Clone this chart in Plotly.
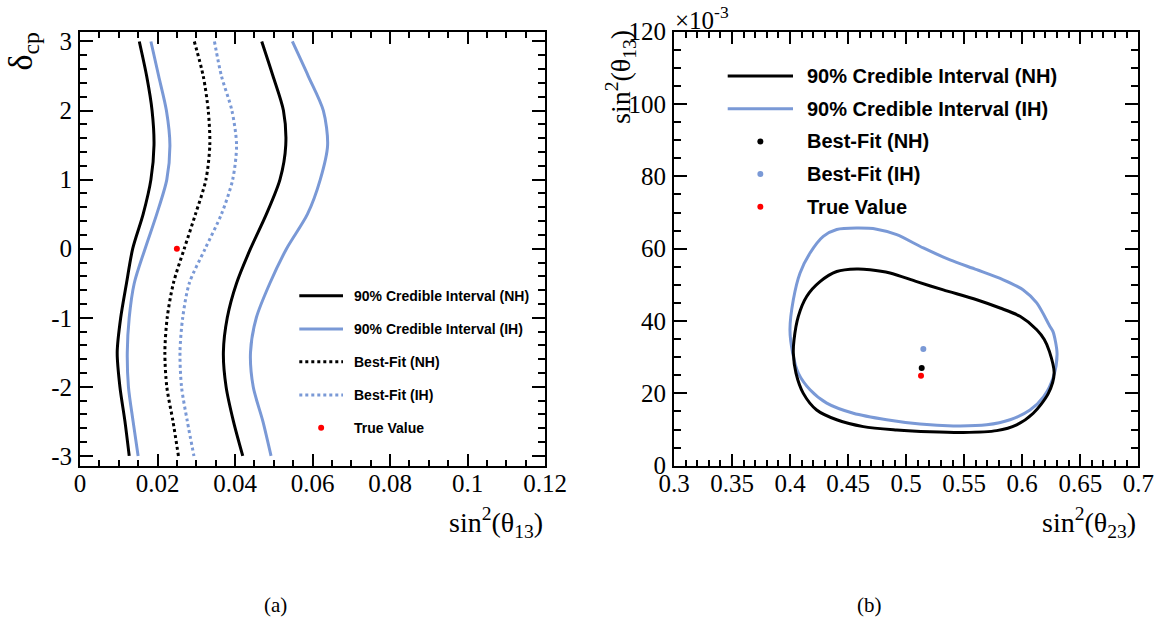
import plotly.graph_objects as go

W, H = 1164, 625

# ---------------- panel (a): delta_cp vs sin^2(theta13) ----------------
delta_cp = [3.0, 2.5, 2.0, 1.5, 1.0, 0.5, 0.0, -0.5, -1.0, -1.5, -2.0, -2.5, -3.0]

nh_ci_low = [0.0153, 0.0172, 0.0186, 0.0191, 0.0183, 0.0163, 0.0136, 0.0120, 0.0105, 0.0096, 0.0103, 0.0116, 0.0127]
nh_ci_high = [0.0469, 0.0498, 0.0525, 0.0531, 0.0516, 0.0481, 0.0440, 0.0404, 0.0380, 0.0370, 0.0377, 0.0396, 0.0420]
ih_ci_low = [0.0183, 0.0203, 0.0223, 0.0232, 0.0224, 0.0198, 0.0168, 0.0140, 0.0127, 0.0122, 0.0125, 0.0137, 0.0150]
ih_ci_high = [0.0548, 0.0589, 0.0628, 0.0639, 0.0620, 0.0587, 0.0533, 0.0490, 0.0455, 0.0440, 0.0447, 0.0472, 0.0493]
nh_best = [0.0295, 0.0318, 0.0331, 0.0335, 0.0325, 0.0298, 0.0269, 0.0241, 0.0225, 0.0219, 0.0224, 0.0240, 0.0254]
ih_best = [0.0347, 0.0365, 0.0392, 0.0404, 0.0394, 0.0365, 0.0323, 0.0282, 0.0265, 0.0258, 0.0262, 0.0277, 0.0294]

true_s13_a = [0.025]
true_dcp_a = [0.0]

x13_ticks = [0, 0.02, 0.04, 0.06, 0.08, 0.1, 0.12]
x13_labels = ["0", "0.02", "0.04", "0.06", "0.08", "0.1", "0.12"]
dcp_ticks = [-3, -2, -1, 0, 1, 2, 3]
dcp_labels = ["-3", "-2", "-1", "0", "1", "2", "3"]

# ---------------- panel (b): sin^2(theta13) [x1e-3] vs sin^2(theta23) ----------------
nh_s23 = [0.4574, 0.4689, 0.4861, 0.5091, 0.5320, 0.5608, 0.5809, 0.5981, 0.6125, 0.6190,
          0.6234, 0.6275, 0.6225, 0.6095, 0.5952, 0.5780, 0.5492, 0.5205, 0.4919, 0.4631,
          0.4402, 0.4229, 0.4114, 0.4051, 0.4028, 0.4034, 0.4071, 0.4143, 0.4258, 0.4402, 0.4574]
nh_s13 = [54.4, 54.2, 53.3, 50.9, 48.6, 45.9, 43.6, 41.3, 37.6, 34.9,
          31.6, 25.6, 20.0, 14.5, 11.3, 9.7, 9.2, 9.4, 9.9, 10.8,
          12.7, 15.4, 20.0, 25.6, 31.1, 34.8, 41.3, 46.8, 50.9, 53.7, 54.4]
ih_s23 = [0.4574, 0.4746, 0.4919, 0.5148, 0.5378, 0.5608, 0.5837, 0.6009, 0.6125, 0.6239,
          0.6266, 0.6300, 0.6270, 0.6185, 0.6067, 0.5895, 0.5694, 0.5406, 0.5119, 0.4832,
          0.4545, 0.4316, 0.4172, 0.4071, 0.4023, 0.3999, 0.4028, 0.4086, 0.4172, 0.4286,
          0.4402, 0.4574]
ih_s13 = [65.7, 65.4, 63.9, 60.2, 56.9, 54.2, 51.4, 48.6, 45.0, 38.5,
          37.0, 31.0, 24.7, 19.1, 15.4, 12.7, 11.3, 11.0, 11.5, 12.7,
          14.5, 17.3, 21.0, 25.6, 31.1, 37.6, 45.9, 53.3, 58.8, 63.4,
          65.3, 65.7]

bf_nh_b = (0.5134, 27.0)
bf_ih_b = (0.5148, 32.3)
true_b = (0.5128, 24.9)

x23_ticks = [0.3, 0.35, 0.4, 0.45, 0.5, 0.55, 0.6, 0.65, 0.7]
x23_labels = ["0.3", "0.35", "0.4", "0.45", "0.5", "0.55", "0.6", "0.65", "0.7"]
y13_ticks = [0, 20, 40, 60, 80, 100, 120]
y13_labels = ["0", "20", "40", "60", "80", "100", "120"]

legend_a = ["90% Credible Interval (NH)", "90% Credible Interval (IH)",
            "Best-Fit (NH)", "Best-Fit (IH)", "True Value"]
legend_b = ["90% Credible Interval (NH)", "90% Credible Interval (IH)",
            "Best-Fit (NH)", "Best-Fit (IH)", "True Value"]

BLACK = "#000000"
BLUE = "#7a99d6"
RED = "#ff0000"
LW = 3


def fx(p):
    return p / W


def fy(p):
    return 1 - p / H


fig = go.Figure()

# panel (a) curves
for xs, col, dash in [(nh_ci_low, BLACK, "solid"), (nh_ci_high, BLACK, "solid"),
                      (ih_ci_low, BLUE, "solid"), (ih_ci_high, BLUE, "solid"),
                      (nh_best, BLACK, "dot"), (ih_best, BLUE, "dot")]:
    fig.add_trace(go.Scatter(x=xs, y=delta_cp, mode="lines", xaxis="x", yaxis="y",
                             line=dict(color=col, width=LW, dash=dash, shape="spline", smoothing=0.8),
                             showlegend=False, hoverinfo="skip"))
fig.add_trace(go.Scatter(x=true_s13_a, y=true_dcp_a, mode="markers", xaxis="x", yaxis="y",
                         marker=dict(color=RED, size=6), showlegend=False))

# panel (b) contours and points
fig.add_trace(go.Scatter(x=ih_s23, y=ih_s13, mode="lines", xaxis="x2", yaxis="y2",
                         line=dict(color=BLUE, width=LW, shape="spline", smoothing=0.8),
                         showlegend=False, hoverinfo="skip"))
fig.add_trace(go.Scatter(x=nh_s23, y=nh_s13, mode="lines", xaxis="x2", yaxis="y2",
                         line=dict(color=BLACK, width=LW, shape="spline", smoothing=0.8),
                         showlegend=False, hoverinfo="skip"))
for pt, col in [(bf_ih_b, BLUE), (bf_nh_b, BLACK), (true_b, RED)]:
    fig.add_trace(go.Scatter(x=[pt[0]], y=[pt[1]], mode="markers", xaxis="x2", yaxis="y2",
                             marker=dict(color=col, size=6), showlegend=False))

ydom = [fy(465.7), fy(31.7)]
tickfont = dict(family="Liberation Serif", size=25, color="black")


def axis(dom, rng, tv, tt, minor_dt, major_len, minor_len, anchor, standoff):
    return dict(domain=dom, range=rng, tickvals=tv, ticktext=tt, anchor=anchor,
                automargin=False,
                showline=True, linewidth=2, linecolor="black", mirror="ticks",
                ticks="inside", ticklen=major_len, tickwidth=1.5, tickcolor="black",
                minor=dict(dtick=minor_dt, tick0=0, ticks="inside",
                           ticklen=minor_len, tickwidth=1.5, tickcolor="black", showgrid=False),
                showgrid=False, zeroline=False, tickfont=tickfont, ticklabelstandoff=standoff)


fig.update_layout(
    width=W, height=H, autosize=False,
    margin=dict(l=0, r=0, t=0, b=0, pad=0),
    paper_bgcolor="white", plot_bgcolor="white",
    font=dict(family="Liberation Serif", size=25, color="black"),
    xaxis=axis([fx(80), fx(545)], [0, 0.12], x13_ticks, x13_labels, 0.005, 12, 6, "y", -6),
    yaxis=axis(ydom, [-3.1416, 3.1416], dcp_ticks, dcp_labels, 0.2, 13, 7, "x", 1),
    xaxis2=axis([fx(674), fx(1138.3)], [0.3, 0.7], x23_ticks, x23_labels, 0.01, 12, 6, "y2", -6),
    yaxis2=axis(ydom, [0, 120], y13_ticks, y13_labels, 5, 13, 7, "x2", 1),
)

ann = []
shapes = []
title_font = dict(family="Liberation Serif", size=28, color="black")

ann.append(dict(text="sin<sup>2</sup>(θ<sub>13</sub>)", x=fx(545), y=fy(522), xref="paper", yref="paper",
                xanchor="right", yanchor="middle", showarrow=False, font=title_font))
ann.append(dict(text="sin<sup>2</sup>(θ<sub>23</sub>)", x=fx(1138.3), y=fy(522), xref="paper", yref="paper",
                xanchor="right", yanchor="middle", showarrow=False, font=title_font))
ann.append(dict(text="δ<sub>cp</sub>", x=fx(22), y=fy(30), xref="paper", yref="paper", textangle=-90,
                xanchor="center", yanchor="top", showarrow=False,
                font=dict(family="Liberation Serif", size=34, color="black")))
ann.append(dict(text="sin<sup>2</sup>(θ<sub>13</sub>)", x=fx(621), y=fy(28), xref="paper", yref="paper", textangle=-90,
                xanchor="center", yanchor="top", showarrow=False, font=title_font))
ann.append(dict(text="×10<sup>-3</sup>", x=fx(673), y=fy(18), xref="paper", yref="paper",
                xanchor="left", yanchor="middle", showarrow=False,
                font=dict(family="Liberation Serif", size=25, color="black")))
ann.append(dict(text="(a)", x=fx(275), y=fy(605), xref="paper", yref="paper",
                xanchor="center", yanchor="middle", showarrow=False,
                font=dict(family="Liberation Serif", size=21, color="black")))
ann.append(dict(text="(b)", x=fx(869), y=fy(605), xref="paper", yref="paper",
                xanchor="center", yanchor="middle", showarrow=False,
                font=dict(family="Liberation Serif", size=21, color="black")))

# hand-placed legends (one per panel)
styles = [("line", BLACK, "solid"), ("line", BLUE, "solid"), ("line", BLACK, "dot"),
          ("line", BLUE, "dot"), ("marker", RED, None)]


def legend(labels, rows, x0, x1, xt, fsize):
    for lab, ry, (kind, col, dash) in zip(labels, rows, styles):
        if kind == "line":
            shapes.append(dict(type="line", xref="paper", yref="paper", x0=fx(x0), x1=fx(x1),
                               y0=fy(ry), y1=fy(ry), line=dict(color=col, width=LW, dash=dash)))
        else:
            xc = (x0 + x1) / 2
            shapes.append(dict(type="circle", xref="paper", yref="paper", x0=fx(xc - 3), x1=fx(xc + 3),
                               y0=fy(ry + 3), y1=fy(ry - 3), fillcolor=col, line=dict(width=0)))
        ann.append(dict(text=lab, x=fx(xt), y=fy(ry), xref="paper", yref="paper", xanchor="left",
                        yanchor="middle", showarrow=False,
                        font=dict(family="Liberation Sans", size=fsize, color="black", weight="bold")))


legend(legend_a, [295.7, 329.0, 361.7, 395.0, 427.7], 299.3, 343.0, 352.0, 14)

styles = [("line", BLACK, "solid"), ("line", BLUE, "solid"), ("marker", BLACK, None),
          ("marker", BLUE, None), ("marker", RED, None)]
legend(legend_b, [76.0, 108.7, 141.4, 174.1, 206.8], 727.7, 793.0, 805.0, 20)

fig.update_layout(annotations=ann, shapes=shapes)
fig.write_html("out.html")
